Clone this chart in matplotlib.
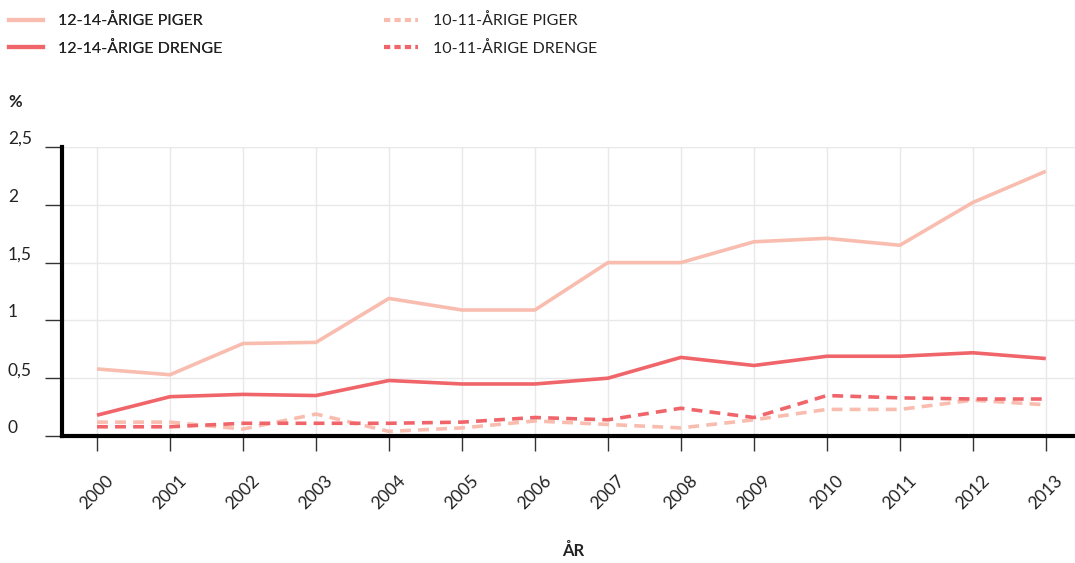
import matplotlib
matplotlib.use("Agg")
import matplotlib.pyplot as plt
import matplotlib.transforms as mtransforms
from matplotlib.lines import Line2D

plt.rcParams["font.family"] = ["Lato", "DejaVu Sans"]

years = list(range(2000, 2014))
piger_12_14 = [0.58, 0.53, 0.80, 0.81, 1.19, 1.09, 1.09, 1.50, 1.50, 1.68, 1.71, 1.65, 2.02, 2.29]
drenge_12_14 = [0.18, 0.34, 0.36, 0.35, 0.48, 0.45, 0.45, 0.50, 0.68, 0.61, 0.69, 0.69, 0.72, 0.67]
piger_10_11 = [0.12, 0.12, 0.06, 0.19, 0.04, 0.07, 0.13, 0.10, 0.07, 0.14, 0.23, 0.23, 0.31, 0.27]
drenge_10_11 = [0.08, 0.08, 0.11, 0.11, 0.11, 0.12, 0.16, 0.14, 0.24, 0.16, 0.35, 0.33, 0.32, 0.32]
yticks = [0, 0.5, 1, 1.5, 2, 2.5]
ytick_labels = ["0", "0,5", "1", "1,5", "2", "2,5"]

LIGHT = "#f9bdb0"
RED = "#f0656a"
INK = "#222222"

fig = plt.figure(figsize=(10.75, 5.63), dpi=100)
ax = fig.add_axes([62 / 1075, 1 - 436 / 563, 1 - 62 / 1075, (436 - 147) / 563])

ax.plot(years, piger_12_14, color=LIGHT, lw=2.6, solid_capstyle="butt")
ax.plot(years, drenge_12_14, color=RED, lw=2.6, solid_capstyle="butt")
ax.plot(years, piger_10_11, color=LIGHT, lw=2.6, ls=(0, (3, 2)))
ax.plot(years, drenge_10_11, color=RED, lw=2.6, ls=(0, (3, 2)))

ax.set_xlim(1999.52, 2013.4)
ax.set_ylim(0, 2.5)

# rotated year labels, nudged a little left of their ticks
ax.set_xticks(years)
ax.set_xticklabels([str(y) for y in years], rotation=45, ha="center", va="top",
                   fontsize=12.5, color=INK)
shift = mtransforms.ScaledTranslation(-4 / 100, 0, fig.dpi_scale_trans)
for lab in ax.get_xticklabels():
    lab.set_transform(lab.get_transform() + shift)

# y labels sit left-aligned at the figure edge, just above their gridline
ax.set_yticks(yticks)
ax.set_yticklabels([])
ytrans = mtransforms.blended_transform_factory(mtransforms.IdentityTransform(), ax.transData)
for v, lab in zip(yticks, ytick_labels):
    ax.text(8, v, lab, transform=ytrans, fontsize=12.5, color=INK, va="bottom", ha="left")

ax.grid(True, color="#e8e8e8", lw=1)
ax.set_axisbelow(True)
for s in ["top", "right"]:
    ax.spines[s].set_visible(False)
for s in ["left", "bottom"]:
    ax.spines[s].set_linewidth(3)
    ax.spines[s].set_color("black")
    ax.spines[s].set_zorder(5)
ax.tick_params(axis="x", length=11, width=1, color="#333333", pad=15)
ax.tick_params(axis="y", length=12, width=1, color="#333333")

fig.text(15 / 1075, 1 - 102 / 563, "%", fontsize=12, fontweight="bold",
         ha="center", va="center", color=INK)
fig.text(573 / 1075, 1 - 551 / 563, "ÅR", fontsize=12, fontweight="bold",
         ha="center", va="center", color=INK)

leg_kw = dict(loc="center left", frameon=False, fontsize=11.5, borderpad=0,
              borderaxespad=0, handlelength=2.1, handletextpad=0.95,
              labelspacing=0.78, labelcolor=INK)
solid_12_14 = [Line2D([], [], color=LIGHT, lw=3), Line2D([], [], color=RED, lw=3)]
dash_10_11 = [Line2D([], [], color=LIGHT, lw=3, ls=(0, (1.5, 1))),
              Line2D([], [], color=RED, lw=3, ls=(0, (1.5, 1)))]
leg1 = fig.legend(solid_12_14, ["12-14-ÅRIGE PIGER", "12-14-ÅRIGE DRENGE"],
                  bbox_to_anchor=(9 / 1075, 1 - 34.5 / 563), **leg_kw)
fig.add_artist(leg1)
fig.legend(dash_10_11, ["10-11-ÅRIGE PIGER", "10-11-ÅRIGE DRENGE"],
           bbox_to_anchor=(384 / 1075, 1 - 34.5 / 563), **leg_kw)

fig.savefig("out.png", dpi=100)
